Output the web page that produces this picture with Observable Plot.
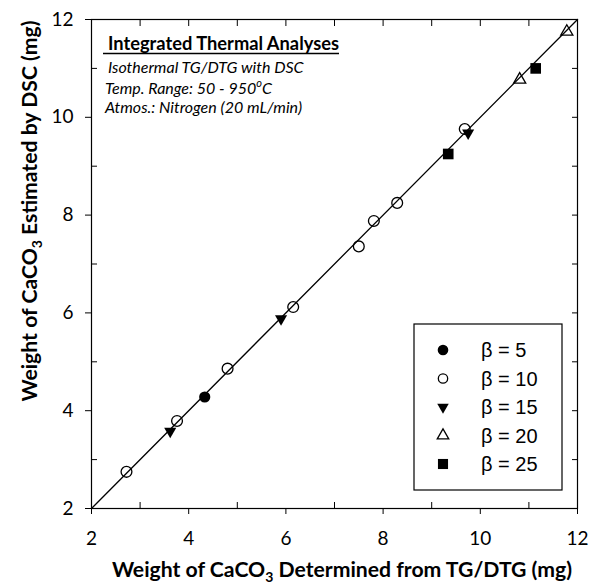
<!DOCTYPE html>
<html>
<head>
<meta charset="utf-8">
<script src="https://cdn.jsdelivr.net/npm/d3@7"></script>
<script src="https://cdn.jsdelivr.net/npm/@observablehq/plot@0.6"></script>
<style>
  body { margin: 0; background: #fff; }
  #chart svg { display: block; }
</style>
</head>
<body>
<div id="chart"></div>
<script>
// CaCO3 weight from TG/DTG (x) vs. estimated by DSC (y), by heating rate β
const betaLabels = ["β = 5", "β = 10", "β = 15", "β = 20", "β = 25"];

const beta5TG   = [4.33];
const beta5DSC  = [4.28];
const beta10TG  = [2.72, 3.76, 4.80, 6.15, 7.50, 7.81, 8.29, 9.68];
const beta10DSC = [2.75, 3.79, 4.86, 6.12, 7.36, 7.88, 8.25, 9.76];
const beta15TG  = [3.62, 5.90, 9.75];
const beta15DSC = [3.58, 5.88, 9.68];
const beta20TG  = [10.81, 11.78];
const beta20DSC = [10.77, 11.75];
const beta25TG  = [9.34, 11.14];
const beta25DSC = [9.25, 11.00];

// 1:1 parity line and axis ticks
const parityLine = [2, 12];
const majorTicks = [2, 4, 6, 8, 10, 12];
const minorTicks = [3, 5, 7, 9, 11];
const allTicks   = [2, 3, 4, 5, 6, 7, 8, 9, 10, 11, 12];

const seriesX = [beta5TG, beta10TG, beta15TG, beta20TG, beta25TG];
const seriesY = [beta5DSC, beta10DSC, beta15DSC, beta20DSC, beta25DSC];

// marker styles per series
const markerStyle = [
  {symbol: "circle",   fill: "black", stroke: "none",  r: 5.6, rotate: 0},
  {symbol: "circle",   fill: "none",  stroke: "black", r: 5.4, rotate: 0},
  {symbol: "triangle", fill: "black", stroke: "none",  r: 4.5, rotate: 180},
  {symbol: "triangle", fill: "none",  stroke: "black", r: 4.5, rotate: 0},
  {symbol: "square",   fill: "black", stroke: "none",  r: 6.0, rotate: 0}
];

const rows = seriesX.map((xs, i) => xs.map((x, j) => ({x, y: seriesY[i][j]})));

const W = 590, H = 585;
const margin = {top: 19, right: 13, bottom: 77, left: 91};

// tick-only axis (no labels)
const ticksOnlyX = (opts) => Plot.axisX({...opts, fill: "none", label: null});
const ticksOnlyY = (opts) => Plot.axisY({...opts, fill: "none", label: null});

const plot = Plot.plot({
  width: W,
  height: H,
  marginTop: margin.top,
  marginRight: margin.right,
  marginBottom: margin.bottom,
  marginLeft: margin.left,
  style: {fontFamily: "Lato, sans-serif", fontSize: "19px", color: "black", background: "white"},
  x: {domain: [2, 12]},
  y: {domain: [2, 12]},
  marks: [
    Plot.line(parityLine, {x: d => d, y: d => d, stroke: "black", strokeWidth: 1.3}),
    ...rows.map((data, i) => Plot.dot(data, {
      x: "x", y: "y",
      symbol: markerStyle[i].symbol,
      r: markerStyle[i].r,
      fill: markerStyle[i].fill,
      stroke: markerStyle[i].stroke,
      strokeWidth: 1.3,
      rotate: markerStyle[i].rotate
    })),
    // bottom axis: labelled major ticks outside, minor ticks inside
    Plot.axisX({anchor: "bottom", ticks: majorTicks, tickSize: 6, tickPadding: 17, fontSize: 19, label: null}),
    ticksOnlyX({anchor: "bottom", ticks: minorTicks, tickSize: 6, dy: -6}),
    // left axis
    Plot.axisY({anchor: "left", ticks: majorTicks, tickSize: 6, tickPadding: 12, fontSize: 19, label: null}),
    ticksOnlyY({anchor: "left", ticks: minorTicks, tickSize: 6, dx: 6}),
    // top and right: inward ticks only
    ticksOnlyX({anchor: "top", ticks: allTicks, tickSize: 6, dy: 6}),
    ticksOnlyY({anchor: "right", ticks: allTicks, tickSize: 6, dx: -6}),
    Plot.frame({stroke: "black", strokeWidth: 1.2})
  ]
});

document.getElementById("chart").append(plot);

const svg = d3.select(plot);

// axis titles
const xTitle = svg.append("text")
  .attr("x", 342).attr("y", 577)
  .attr("text-anchor", "middle")
  .attr("font-family", "Lato, sans-serif")
  .attr("font-weight", "bold")
  .attr("font-size", 21.2)
  .attr("fill", "black");
xTitle.append("tspan").text("Weight of CaCO");
xTitle.append("tspan").attr("font-size", 14).attr("dy", 5).text("3");
xTitle.append("tspan").attr("dy", -5).text(" Determined from TG/DTG (mg)");

const yTitle = svg.append("text")
  .attr("transform", "translate(37,211) rotate(-90)")
  .attr("text-anchor", "middle")
  .attr("font-family", "Lato, sans-serif")
  .attr("font-weight", "bold")
  .attr("font-size", 21.2)
  .attr("fill", "black");
yTitle.append("tspan").text("Weight of CaCO");
yTitle.append("tspan").attr("font-size", 14).attr("dy", 5).text("3");
yTitle.append("tspan").attr("dy", -5).text(" Estimated by DSC (mg)");

// annotation block
const note = svg.append("g")
  .attr("text-anchor", "start")
  .attr("font-family", "Lato, sans-serif").attr("fill", "black");
note.append("text").attr("x", 108).attr("y", 50)
  .attr("font-weight", "bold").attr("font-size", 18.3).text("Integrated Thermal Analyses");
note.append("line").attr("x1", 103).attr("x2", 339).attr("y1", 53.5).attr("y2", 53.5)
  .attr("stroke", "black").attr("stroke-width", 1.3);
note.append("text").attr("x", 108).attr("y", 73)
  .attr("font-style", "italic").attr("font-size", 16).text("Isothermal TG/DTG with DSC");
const tempLine = note.append("text").attr("x", 105).attr("y", 94)
  .attr("font-style", "italic").attr("font-size", 16);
tempLine.append("tspan").text("Temp. Range: 50 - 950");
tempLine.append("tspan").attr("font-size", 11).attr("dy", -7).text("o");
tempLine.append("tspan").attr("dy", 7).text("C");
note.append("text").attr("x", 105).attr("y", 113)
  .attr("font-style", "italic").attr("font-size", 16).text("Atmos.: Nitrogen (20 mL/min)");

// legend
const legend = svg.append("g").attr("transform", "translate(414,324)");
legend.append("rect").attr("width", 148).attr("height", 166)
  .attr("fill", "white").attr("stroke", "black").attr("stroke-width", 1.2);
betaLabels.forEach((label, i) => {
  const s = markerStyle[i];
  const row = legend.append("g").attr("transform", `translate(0,${26 + i * 28.5})`);
  const sym = d3.symbol()
    .type(s.symbol === "circle" ? d3.symbolCircle : s.symbol === "square" ? d3.symbolSquare : d3.symbolTriangle)
    .size(Math.PI * s.r * s.r * (s.symbol === "circle" && s.fill === "none" ? 0.75 : 0.9));
  row.append("path").attr("d", sym())
    .attr("transform", `translate(29,0) rotate(${s.rotate})`)
    .attr("fill", s.fill).attr("stroke", s.stroke).attr("stroke-width", 1.3);
  row.append("text").attr("x", 67).attr("y", 7)
    .attr("text-anchor", "start")
    .attr("font-family", "Liberation Sans, Arial, sans-serif")
    .attr("font-size", 20).attr("fill", "black").text(label);
});
</script>
</body>
</html>
